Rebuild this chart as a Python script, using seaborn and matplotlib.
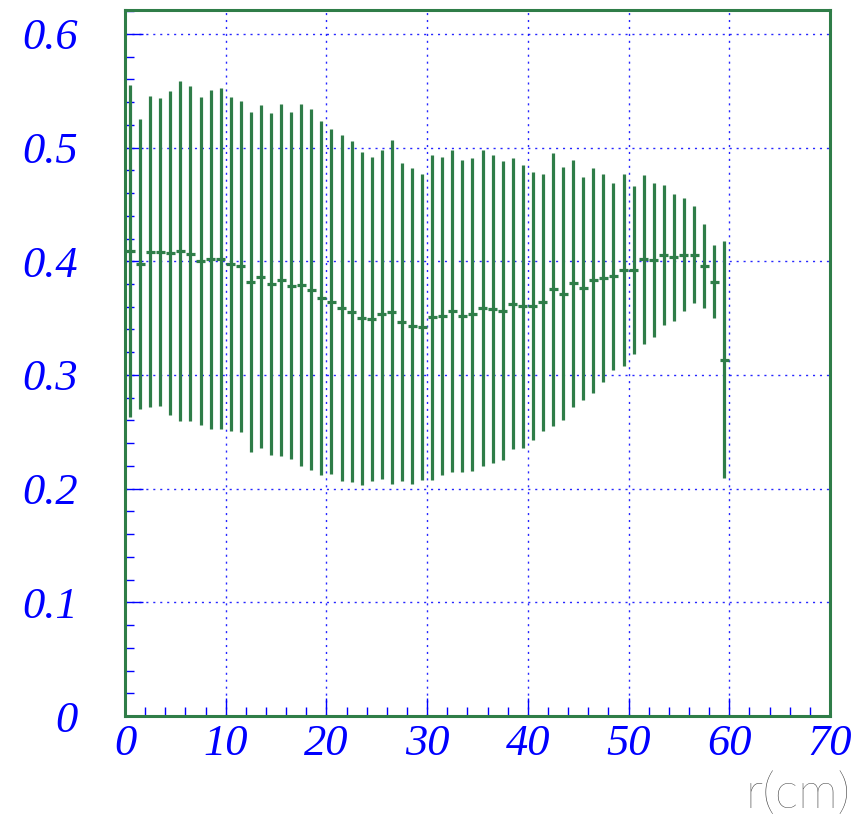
import numpy as np
import pandas as pd
import matplotlib
matplotlib.use("Agg")
import matplotlib.pyplot as plt
import seaborn as sns

# Profile of the quantity versus radius: bin centres (cm), bin means and errors
r_centres = [0.5, 1.5, 2.5, 3.5, 4.5, 5.5, 6.5, 7.5, 8.5, 9.5,
             10.5, 11.5, 12.5, 13.5, 14.5, 15.5, 16.5, 17.5, 18.5, 19.5,
             20.5, 21.5, 22.5, 23.5, 24.5, 25.5, 26.5, 27.5, 28.5, 29.5,
             30.5, 31.5, 32.5, 33.5, 34.5, 35.5, 36.5, 37.5, 38.5, 39.5,
             40.5, 41.5, 42.5, 43.5, 44.5, 45.5, 46.5, 47.5, 48.5, 49.5,
             50.5, 51.5, 52.5, 53.5, 54.5, 55.5, 56.5, 57.5, 58.5, 59.5]

bin_means = [0.4088, 0.3976, 0.4085, 0.4079, 0.4071, 0.4091, 0.4068, 0.4003, 0.4018, 0.4024,
             0.3976, 0.3956, 0.3818, 0.3865, 0.3800, 0.3835, 0.3785, 0.3788, 0.3750, 0.3674,
             0.3644, 0.3588, 0.3556, 0.3497, 0.3491, 0.3535, 0.3553, 0.3465, 0.3429, 0.3424,
             0.3506, 0.3518, 0.3562, 0.3521, 0.3532, 0.3585, 0.3579, 0.3565, 0.3626, 0.3603,
             0.3607, 0.3638, 0.3753, 0.3715, 0.3806, 0.3762, 0.3832, 0.3853, 0.3868, 0.3921,
             0.3921, 0.4018, 0.4009, 0.4053, 0.4035, 0.4059, 0.4059, 0.3956, 0.3821, 0.3135]

bin_errors = [0.1462, 0.1274, 0.1366, 0.1353, 0.1424, 0.1494, 0.1477, 0.1441, 0.1490, 0.1496,
              0.1466, 0.1456, 0.1493, 0.1508, 0.1502, 0.1550, 0.1524, 0.1591, 0.1588, 0.1557,
              0.1518, 0.1521, 0.1502, 0.1467, 0.1427, 0.1446, 0.1512, 0.1402, 0.1389, 0.1346,
              0.1428, 0.1400, 0.1418, 0.1372, 0.1374, 0.1390, 0.1357, 0.1316, 0.1280, 0.1246,
              0.1179, 0.1130, 0.1199, 0.1113, 0.1085, 0.0983, 0.0989, 0.0912, 0.0824, 0.0846,
              0.0740, 0.0744, 0.0677, 0.0618, 0.0558, 0.0499, 0.0427, 0.0368, 0.0321, 0.1043]

x_ticks = [0, 10, 20, 30, 40, 50, 60, 70]
y_ticks = [0.0, 0.1, 0.2, 0.3, 0.4, 0.5, 0.6]
y_tick_labels = ["0", "0.1", "0.2", "0.3", "0.4", "0.5", "0.6"]
x_label = "r(cm)"

profile = pd.DataFrame({"r": r_centres, "mean": bin_means, "err": bin_errors})

sns.set_theme(style="white")

GREEN = "#2f7d48"
BLUE = "#0000ff"

fig = plt.figure(figsize=(8.65, 8.16), dpi=100)
ax = fig.add_axes([125 / 865, 100 / 816, 705 / 865, 706 / 816])

# vertical error bars plus a short horizontal bar at each bin mean
ax.errorbar(profile["r"], profile["mean"], yerr=profile["err"], xerr=0.45,
            fmt="none", ecolor=GREEN, elinewidth=2.3, capsize=0, zorder=2)

ax.set_xlim(0, 70)
ax.set_ylim(0, 0.621)

ax.set_xticks(x_ticks)
ax.set_xticklabels([str(t) for t in x_ticks])
ax.set_yticks(y_ticks)
ax.set_yticklabels(y_tick_labels)
ax.set_xticks(np.arange(0, 70.1, 2), minor=True)
ax.set_yticks(np.arange(0, 0.621, 0.02), minor=True)

for lab in ax.get_xticklabels() + ax.get_yticklabels():
    lab.set_fontfamily("Liberation Serif")
    lab.set_fontstyle("italic")
    lab.set_fontsize(32)
    lab.set_color(BLUE)

ax.tick_params(axis="both", which="both", direction="in", colors=BLUE,
               top=False, right=False, left=True, bottom=True)
ax.tick_params(axis="both", which="major", length=13, width=1.0)
ax.tick_params(axis="both", which="minor", length=6.5, width=1.0)
ax.tick_params(axis="y", which="major", pad=34)
ax.tick_params(axis="x", which="major", pad=6)

for spine in ax.spines.values():
    spine.set_color(GREEN)
    spine.set_linewidth(2.2)
    spine.set_visible(True)
    spine.set_zorder(2.6)

ax.grid(True, which="major", color=BLUE, linestyle=(0, (1.5, 3.5)),
        linewidth=1.0, alpha=0.85)
for gl in ax.get_xgridlines() + ax.get_ygridlines():
    gl.set_zorder(3)

fig.text(851 / 865, 1 - 794 / 816, x_label, ha="right", va="center",
         fontsize=36, fontfamily="Lato", fontweight="light", color="#3a3a3a")

fig.savefig("out.png", dpi=100, facecolor="white")
